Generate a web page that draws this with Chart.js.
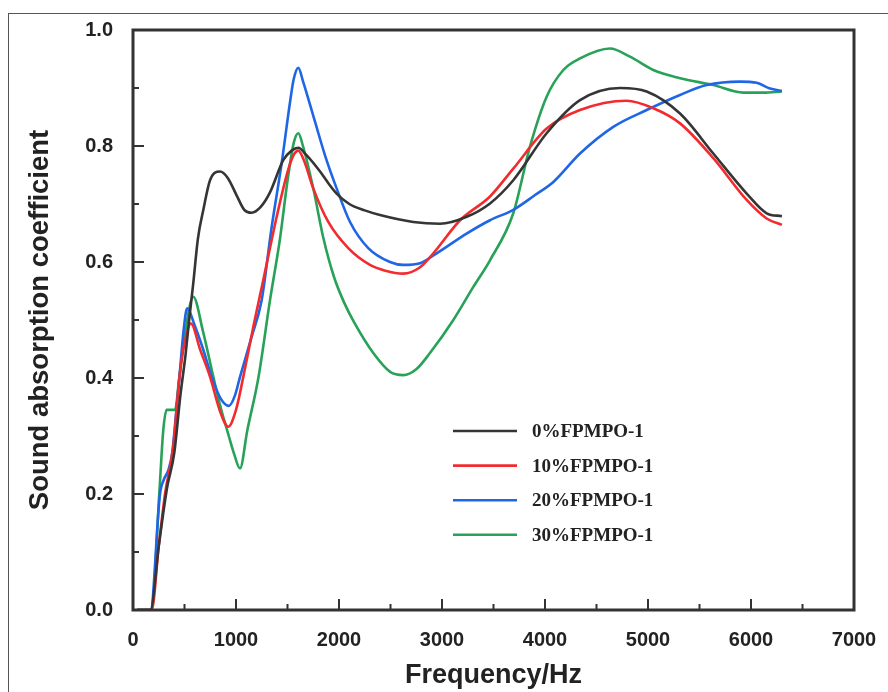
<!DOCTYPE html>
<html><head><meta charset="utf-8">
<script src="https://cdn.jsdelivr.net/npm/chart.js@4"></script>
<style>
html,body{margin:0;padding:0;background:#fff;}
#wrap{position:relative;width:888px;height:692px;overflow:hidden;}
#frame{position:absolute;left:8px;top:13px;width:900px;height:700px;border-left:1.5px solid #555;border-top:1.5px solid #555;pointer-events:none;}
</style></head><body>
<div id="wrap"><canvas id="c" width="888" height="692"></canvas><div id="frame"></div></div>
<script>
const seriesLabels = ['0%FPMPO-1', '10%FPMPO-1', '20%FPMPO-1', '30%FPMPO-1'];
const seriesColors = ['#353535', '#f22b2f', '#1f66e6', '#27a258'];

const freq0 = [40, 170, 250, 330, 400, 460, 510, 545, 585, 630, 683, 748, 845, 920, 1006, 1080, 1152, 1240, 1330, 1460, 1540, 1605, 1680, 1816, 1900, 1977, 2100, 2250, 2398, 2721, 2981, 3240, 3466, 3692, 4016, 4340, 4728, 4987, 5311, 5634, 5958, 6152, 6300];
const abs0  = [0, 0, 0.11, 0.21, 0.27, 0.37, 0.44, 0.50, 0.563, 0.64, 0.69, 0.741, 0.756, 0.745, 0.715, 0.69, 0.685, 0.695, 0.72, 0.776, 0.792, 0.797, 0.785, 0.756, 0.735, 0.718, 0.70, 0.689, 0.681, 0.669, 0.666, 0.678, 0.701, 0.741, 0.822, 0.879, 0.90, 0.894, 0.856, 0.787, 0.718, 0.684, 0.679];

const freq1 = [40, 181, 250, 311, 391, 450, 500, 563, 650, 748, 850, 925, 1000, 1071, 1170, 1265, 1395, 1500, 1555, 1605, 1660, 1750, 1896, 2090, 2301, 2450, 2624, 2780, 2916, 3175, 3466, 3692, 4016, 4340, 4793, 5052, 5311, 5634, 5958, 6152, 6300];
const abs1  = [0, 0, 0.11, 0.20, 0.282, 0.40, 0.46, 0.494, 0.45, 0.402, 0.34, 0.316, 0.345, 0.402, 0.49, 0.569, 0.678, 0.755, 0.783, 0.792, 0.775, 0.727, 0.669, 0.624, 0.595, 0.585, 0.58, 0.59, 0.615, 0.672, 0.713, 0.761, 0.830, 0.862, 0.878, 0.865, 0.839, 0.779, 0.707, 0.675, 0.664];

const freq2 = [40, 170, 262, 300, 343, 380, 424, 450, 490, 526, 600, 680, 764, 850, 932, 990, 1039, 1150, 1249, 1346, 1443, 1524, 1560, 1605, 1650, 1767, 1864, 1977, 2107, 2284, 2495, 2624, 2786, 2948, 3239, 3466, 3692, 3900, 4081, 4340, 4663, 4987, 5311, 5570, 5893, 6055, 6185, 6300];
const abs2  = [0, 0, 0.20, 0.225, 0.241, 0.27, 0.35, 0.40, 0.48, 0.52, 0.49, 0.45, 0.402, 0.365, 0.352, 0.37, 0.402, 0.47, 0.534, 0.66, 0.77, 0.875, 0.915, 0.935, 0.912, 0.842, 0.784, 0.727, 0.669, 0.624, 0.60, 0.595, 0.598, 0.615, 0.649, 0.672, 0.69, 0.715, 0.738, 0.787, 0.833, 0.862, 0.888, 0.905, 0.911, 0.909, 0.899, 0.895];

const freq3 = [40, 180, 255, 294, 327, 408, 450, 500, 585, 680, 780, 850, 930, 980, 1039, 1110, 1217, 1330, 1427, 1500, 1560, 1605, 1650, 1750, 1850, 1950, 2050, 2150, 2333, 2500, 2624, 2750, 2883, 3110, 3304, 3466, 3692, 3854, 4016, 4178, 4340, 4631, 4825, 5052, 5311, 5634, 5925, 6120, 6300];
const abs3  = [0, 0, 0.20, 0.31, 0.345, 0.345, 0.402, 0.47, 0.54, 0.48, 0.402, 0.35, 0.30, 0.27, 0.244, 0.31, 0.40, 0.534, 0.64, 0.74, 0.805, 0.822, 0.80, 0.727, 0.64, 0.575, 0.53, 0.495, 0.443, 0.41, 0.405, 0.415, 0.443, 0.50, 0.557, 0.603, 0.684, 0.799, 0.885, 0.931, 0.951, 0.968, 0.954, 0.931, 0.917, 0.905, 0.892, 0.892, 0.894];

const xMin = 0, xMax = 7000, xMinorStep = 500, xMajorStep = 1000;
const yMin = 0, yMax = 1.0, yMinorStep = 0.1;
const xTitle = 'Frequency/Hz';
const yTitle = 'Sound absorption coefficient';

const freqs = [freq0, freq1, freq2, freq3];
const vals = [abs0, abs1, abs2, abs3];

const datasets = seriesLabels.map((lab, k) => ({
  label: lab,
  data: freqs[k].map((f, i) => ({x: f, y: vals[k][i]})),
  borderColor: seriesColors[k],
  backgroundColor: seriesColors[k],
  borderWidth: 2.6,
  pointRadius: 0,
  fill: false,
  cubicInterpolationMode: 'monotone',
  tension: 0.4
}));

const decor = {
  id: 'decor',
  afterDatasetsDraw(chart) {
    const {ctx, chartArea: a, scales: {x, y}} = chart;
    ctx.save();
    ctx.strokeStyle = '#333';
    ctx.lineWidth = 2;
    x.ticks.forEach(t => {
      const px = x.getPixelForValue(t.value);
      const len = Math.round(t.value) % xMajorStep === 0 ? 11 : 6;
      ctx.beginPath(); ctx.moveTo(px, a.bottom); ctx.lineTo(px, a.bottom - len); ctx.stroke();
    });
    y.ticks.forEach(t => {
      const py = y.getPixelForValue(t.value);
      const len = Math.round(t.value * 10) % 2 === 0 ? 11 : 6;
      ctx.beginPath(); ctx.moveTo(a.left, py); ctx.lineTo(a.left + len, py); ctx.stroke();
    });
    ctx.lineWidth = 3;
    ctx.strokeRect(a.left, a.top, a.right - a.left, a.bottom - a.top);
    // legend
    const lx0 = a.left + 320, lx1 = a.left + 384, tx = a.left + 399;
    ctx.font = 'bold 19px "Liberation Serif", "Times New Roman", serif';
    ctx.textBaseline = 'middle';
    ctx.textAlign = 'left';
    chart.data.datasets.forEach((ds, i) => {
      const ly = a.top + 401 + i * 34.6;
      ctx.strokeStyle = ds.borderColor;
      ctx.lineWidth = 2.6;
      ctx.beginPath(); ctx.moveTo(lx0, ly); ctx.lineTo(lx1, ly); ctx.stroke();
      ctx.fillStyle = '#222';
      ctx.fillText(ds.label, tx, ly + 1);
    });
    ctx.restore();
  }
};

new Chart(document.getElementById('c'), {
  type: 'line',
  data: {datasets},
  plugins: [decor],
  options: {
    responsive: false,
    animation: false,
    devicePixelRatio: 1,
    layout: {padding: {top: 30, right: 34, left: 0, bottom: 0}},
    plugins: {legend: {display: false}, tooltip: {enabled: false}},
    scales: {
      x: {
        type: 'linear', min: xMin, max: xMax,
        ticks: {stepSize: xMinorStep, padding: 10, color: '#222',
          font: {family: '"Liberation Sans", Arial, sans-serif', size: 20, weight: 'bold'},
          callback: v => (Math.round(v) % xMajorStep === 0 ? String(v) : ''), maxRotation: 0, autoSkip: false},
        grid: {display: false},
        border: {display: false},
        title: {display: true, text: xTitle, color: '#222', padding: {top: 0, bottom: 0},
          font: {family: '"Liberation Sans", Arial, sans-serif', size: 27, weight: 'bold'}},
        afterFit: s => { s.height = 82; }
      },
      y: {
        type: 'linear', min: yMin, max: yMax,
        ticks: {stepSize: yMinorStep, padding: 12, color: '#222',
          font: {family: '"Liberation Sans", Arial, sans-serif', size: 20, weight: 'bold'},
          callback: v => (Math.round(v * 10) % 2 === 0 ? v.toFixed(1) : ''), autoSkip: false},
        grid: {display: false},
        border: {display: false},
        title: {display: true, text: yTitle, color: '#222', padding: {top: 24, bottom: 0},
          font: {family: '"Liberation Sans", Arial, sans-serif', size: 27.5, weight: 'bold'}},
        afterFit: s => { s.width = 133; }
      }
    }
  }
});
</script>
</body></html>
